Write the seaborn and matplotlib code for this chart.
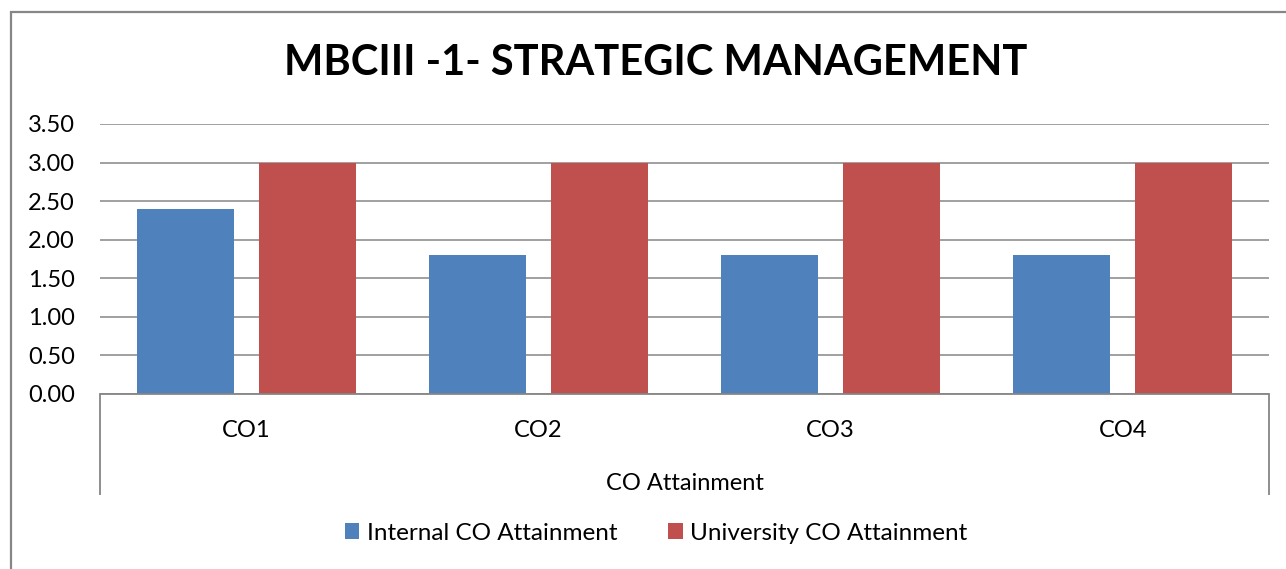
import matplotlib
matplotlib.use("Agg")
import matplotlib.pyplot as plt
import seaborn as sns
import pandas as pd
from matplotlib.patches import Rectangle
from matplotlib.ticker import FormatStrFormatter

# chart data
categories = ["CO1", "CO2", "CO3", "CO4"]
internal = [2.4, 1.8, 1.8, 1.8]
university = [3.0, 3.0, 3.0, 3.0]
series_names = ["Internal CO Attainment", "University CO Attainment"]
colors = ["#4F81BD", "#C0504D"]

df = pd.DataFrame({
    "CO": categories * 2,
    "value": internal + university,
    "series": [series_names[0]] * 4 + [series_names[1]] * 4,
})

sns.set_theme(style="white")
plt.rcParams["font.family"] = ["Lato", "DejaVu Sans"]
plt.rcParams["text.color"] = "black"

W, H = 1286, 569
fig = plt.figure(figsize=(W / 100, H / 100), dpi=100)
ax = fig.add_axes([100 / W, 1 - 394 / H, (1269 - 100) / W, (394 - 124) / H])

sns.barplot(data=df, x="CO", y="value", hue="series", palette=colors,
            width=0.835, gap=0.205, ax=ax, legend=True, saturation=1,
            linewidth=0)

ax.set_ylim(0, 3.5)
ax.set_xlim(-0.5, 3.5)
ax.set_yticks([0, 0.5, 1, 1.5, 2, 2.5, 3, 3.5])
ax.yaxis.set_major_formatter(FormatStrFormatter("%.2f"))
ax.grid(axis="y", color="#868686", linewidth=1.1)
ax.set_axisbelow(True)
for s in ["left", "top", "right"]:
    ax.spines[s].set_visible(False)
ax.spines["bottom"].set_color("#868686")
ax.spines["bottom"].set_linewidth(1.3)
ax.tick_params(axis="y", length=0, pad=18, labelsize=17, labelcolor="black")
ax.tick_params(axis="x", length=0, pad=19, labelsize=17, labelcolor="black")
ax.set_xlabel("CO Attainment", fontsize=17, labelpad=23, color="black")
ax.set_ylabel("")

# outer vertical lines of the multi-level category axis
ax.vlines([0, 1], 0, -(495 - 394) / (394 - 124), transform=ax.transAxes,
          color="#868686", linewidth=1.3, clip_on=False)

# legend at the bottom
handles, labels = ax.get_legend_handles_labels()
ax.legend_.remove()
fig.legend(handles, labels, loc="center", bbox_to_anchor=(656 / W, 1 - 533 / H),
           ncol=2, frameon=False, fontsize=17.5, handlelength=0.6, handleheight=0.6,
           handletextpad=0.3, columnspacing=2.1)

fig.suptitle("MBCIII -1- STRATEGIC MANAGEMENT", x=656 / W, y=1 - 63 / H,
             va="center", fontsize=30, fontweight="bold", color="black")

# chart border (cropped at right and bottom)
fig.patches.append(Rectangle((11 / W, -0.1), 1.2, 1 - 12 / H + 0.1,
                             transform=fig.transFigure, fill=False,
                             edgecolor="#868686", linewidth=1.6))

fig.savefig("out.png", dpi=100)
